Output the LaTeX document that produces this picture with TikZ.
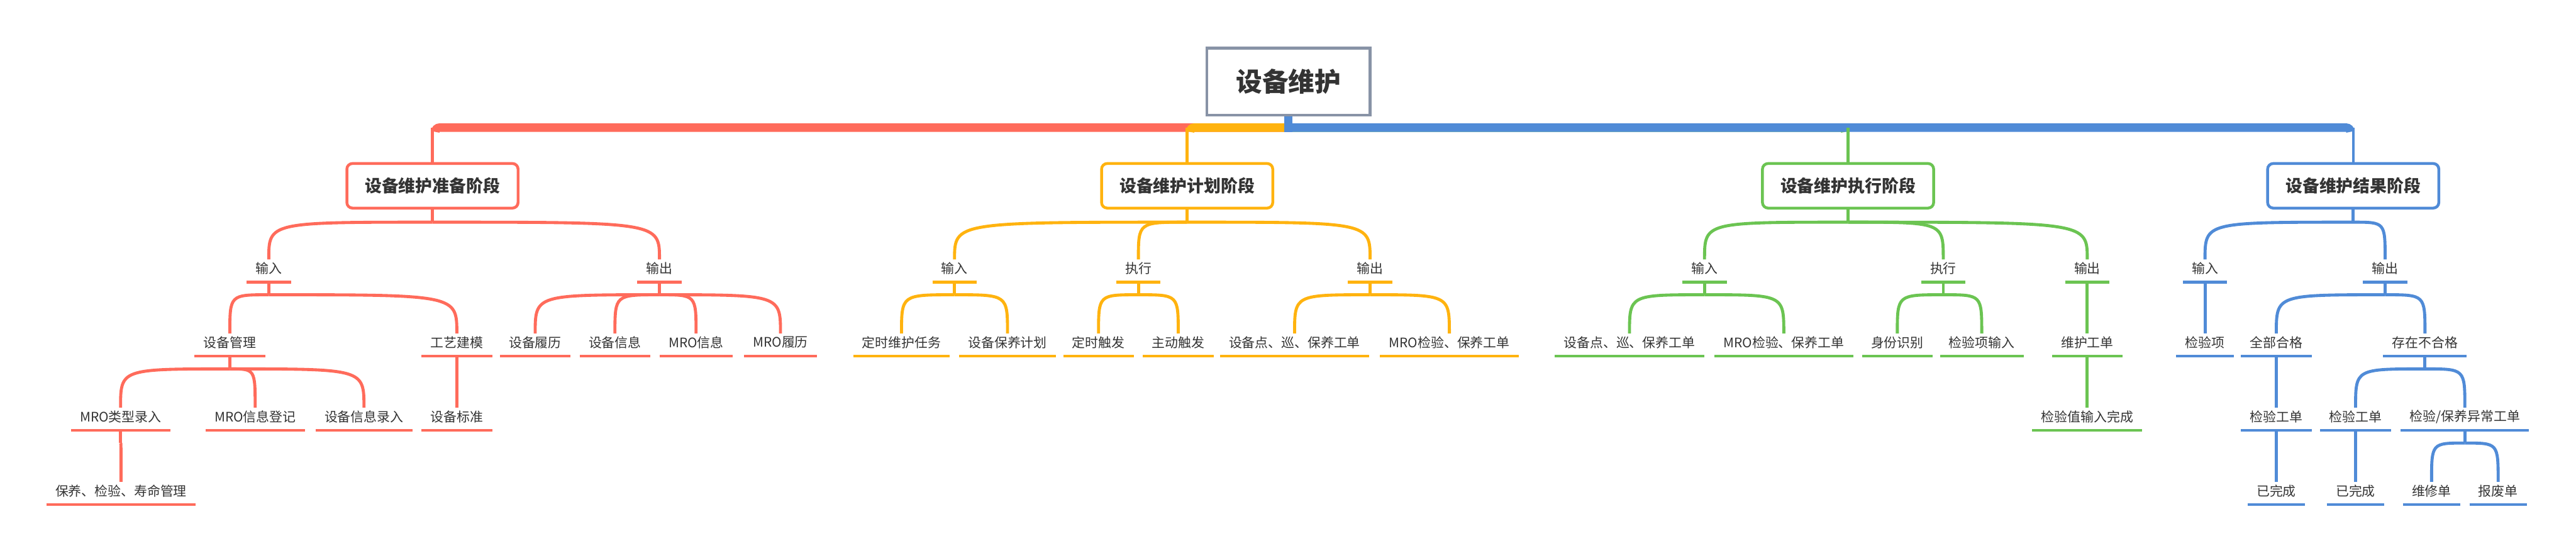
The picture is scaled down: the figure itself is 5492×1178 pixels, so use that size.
\documentclass[tikz,border=0pt]{standalone}
\usepackage{fontspec}
\setmainfont{Noto Sans CJK SC}
\usepackage{xcolor}
\usetikzlibrary{positioning, backgrounds, calc}
\definecolor{mmred}{HTML}{FF6B5B}
\definecolor{mmyellow}{HTML}{FFB30F}
\definecolor{mmgreen}{HTML}{6BC452}
\definecolor{mmblue}{HTML}{508BD7}
\definecolor{mmgray}{HTML}{8893A6}
\definecolor{ink}{HTML}{333333}

\begin{document}
\begin{tikzpicture}[x=1pt, y=-1pt,
	leaf/.style={font=\fontsize{28}{32}\selectfont, text=ink, inner sep=0pt, inner xsep=19pt, minimum height=58pt},
	stage/.style={draw=#1, line width=6pt, rounded corners=12pt, fill=white, minimum width=365pt, minimum height=95pt, text=ink, font=\bfseries\fontsize{36}{40}\selectfont},
	hang/.style={to path={.. controls (\tikztostart -| \tikztotarget) .. ([yshift=-10pt]\tikztotarget)}},
	link/.style={#1, line width=6.5pt},
	uline/.style={#1, line width=6pt}]
			\useasboundingbox (0,0) rectangle (5492,1178);
			\node[draw=mmgray, line width=6pt, fill=white, minimum width=348pt, minimum height=143pt, text=ink, font=\bfseries\fontsize{56}{60}\selectfont] (root) at (2747,174) {设备维护};
			\coordinate (bar) at (2747,272);
			\node[stage=mmred] (prep) at (922,396) {设备维护准备阶段};
			\node[stage=mmyellow] (plan) at (2531,396) {设备维护计划阶段};
			\node[stage=mmgreen] (exec) at (3940,396) {设备维护执行阶段};
			\node[stage=mmblue] (res) at (5017,396) {设备维护结果阶段};
			% preparation
			\node[leaf] (pIn) at (573,572) {输入};
			\node[leaf] (pOut) at (1406,572) {输出};
			\node[leaf] (pMgmt) at (490,730) {设备管理};
			\node[leaf] (pModel) at (974,730) {工艺建模};
			\node[leaf] (pHist) at (1141,730) {设备履历};
			\node[leaf] (pInfo) at (1311,730) {设备信息};
			\node[leaf] (pMroInfo) at (1484,730) {MRO信息};
			\node[leaf] (pMroHist) at (1664,730) {MRO履历};
			\node[leaf] (pType) at (257,888) {MRO类型录入};
			\node[leaf] (pReg) at (544,888) {MRO信息登记};
			\node[leaf] (pEntry) at (776,888) {设备信息录入};
			\node[leaf] (pStd) at (974,888) {设备标准};
			\node[leaf] (pLife) at (258,1046) {保养、检验、寿命管理};
			% planning
			\node[leaf] (lIn) at (2035,572) {输入};
			\node[leaf] (lRun) at (2427,572) {执行};
			\node[leaf] (lOut) at (2921,572) {输出};
			\node[leaf] (lTask) at (1922,730) {定时维护任务};
			\node[leaf] (lPlan) at (2148,730) {设备保养计划};
			\node[leaf] (lTimer) at (2342,730) {定时触发};
			\node[leaf] (lManual) at (2512,730) {主动触发};
			\node[leaf] (lOrder) at (2760,730) {设备点、巡、保养工单};
			\node[leaf] (lMro) at (3090,730) {MRO检验、保养工单};
			% execution
			\node[leaf] (eIn) at (3634,572) {输入};
			\node[leaf] (eRun) at (4143,572) {执行};
			\node[leaf] (eOut) at (4450,572) {输出};
			\node[leaf] (eOrder) at (3474,730) {设备点、巡、保养工单};
			\node[leaf] (eMro) at (3803,730) {MRO检验、保养工单};
			\node[leaf] (eId) at (4045,730) {身份识别};
			\node[leaf] (eItem) at (4225,730) {检验项输入};
			\node[leaf] (eWork) at (4450,730) {维护工单};
			\node[leaf] (eDone) at (4450,888) {检验值输入完成};
			% result
			\node[leaf] (rIn) at (4701,572) {输入};
			\node[leaf] (rOut) at (5085,572) {输出};
			\node[leaf] (rItem) at (4701,730) {检验项};
			\node[leaf] (rPass) at (4853,730) {全部合格};
			\node[leaf] (rFail) at (5170,730) {存在不合格};
			\node[leaf] (rPassOrder) at (4853,888) {检验工单};
			\node[leaf] (rFailOrder) at (5022,888) {检验工单};
			\node[leaf] (rAbn) at (5255,888) {检验/保养异常工单};
			\node[leaf] (rPassDone) at (4853,1046) {已完成};
			\node[leaf] (rFailDone) at (5022,1046) {已完成};
			\node[leaf] (rRepair) at (5184,1046) {维修单};
			\node[leaf] (rScrap) at (5326,1046) {报废单};
			% underlines
			\foreach \n in {pIn,pOut,pMgmt,pModel,pHist,pInfo,pMroInfo,pMroHist,pType,pReg,pEntry,pStd,pLife}
			\draw[uline=mmred] (\n.south west) -- (\n.south east);
			\foreach \n in {lIn,lRun,lOut,lTask,lPlan,lTimer,lManual,lOrder,lMro}
			\draw[uline=mmyellow] (\n.south west) -- (\n.south east);
			\foreach \n in {eIn,eRun,eOut,eOrder,eMro,eId,eItem,eWork,eDone}
			\draw[uline=mmgreen] (\n.south west) -- (\n.south east);
			\foreach \n in {rIn,rOut,rItem,rPass,rFail,rPassOrder,rFailOrder,rAbn,rPassDone,rFailDone,rRepair,rScrap}
			\draw[uline=mmblue] (\n.south west) -- (\n.south east);
			\begin{scope}[on background layer]
				% trunk
				\draw[mmred, line width=18pt, rounded corners=9pt] (bar) -- ($(bar -| prep)+(6,0)$) -- ++(0,9);
				\draw[mmgreen, line width=18pt, rounded corners=9pt] (bar) -- ($(bar -| exec)+(-6,0)$) -- ++(0,9);
				\draw[mmyellow, line width=18pt, rounded corners=9pt] (bar) -- ($(bar -| plan)+(6,0)$) -- ++(0,9);
				\draw[mmblue, line width=17pt] (bar |- root.south) -- ($(bar)+(0,9)$);
				\draw[mmblue, line width=18pt, rounded corners=9pt] (bar) -- ($(bar -| res)+(-6,0)$) -- ++(0,9);
				\draw[mmred, line width=6pt] (bar -| prep) -- (prep.north);
				\draw[mmyellow, line width=6pt] (bar -| plan) -- (plan.north);
				\draw[mmgreen, line width=6pt] (bar -| exec) -- (exec.north);
				\draw[mmblue, line width=6pt] (bar -| res) -- (res.north);
				% branches
				\foreach \p/\cs in {prep/{pIn,pOut}, pIn/{pMgmt,pModel}, pOut/{pHist,pInfo,pMroInfo,pMroHist}, pMgmt/{pType,pReg,pEntry}, pModel/{pStd}, pType/{pLife}}{
					\draw[link=mmred] (\p.south) -- ++(0,27) coordinate (\p-h);
					\foreach \c in \cs \draw[link=mmred] (\p-h) to[hang] (\c.north);
				}
				\foreach \p/\cs in {plan/{lIn,lRun,lOut}, lIn/{lTask,lPlan}, lRun/{lTimer,lManual}, lOut/{lOrder,lMro}}{
					\draw[link=mmyellow] (\p.south) -- ++(0,27) coordinate (\p-h);
					\foreach \c in \cs \draw[link=mmyellow] (\p-h) to[hang] (\c.north);
				}
				\foreach \p/\cs in {exec/{eIn,eRun,eOut}, eIn/{eOrder,eMro}, eRun/{eId,eItem}, eOut/{eWork}, eWork/{eDone}}{
					\draw[link=mmgreen] (\p.south) -- ++(0,27) coordinate (\p-h);
					\foreach \c in \cs \draw[link=mmgreen] (\p-h) to[hang] (\c.north);
				}
				\foreach \p/\cs in {res/{rIn,rOut}, rIn/{rItem}, rOut/{rPass,rFail}, rPass/{rPassOrder}, rFail/{rFailOrder,rAbn}, rPassOrder/{rPassDone}, rFailOrder/{rFailDone}, rAbn/{rRepair,rScrap}}{
					\draw[link=mmblue] (\p.south) -- ++(0,27) coordinate (\p-h);
					\foreach \c in \cs \draw[link=mmblue] (\p-h) to[hang] (\c.north);
				}
			\end{scope}
		\end{tikzpicture}
\end{document}
